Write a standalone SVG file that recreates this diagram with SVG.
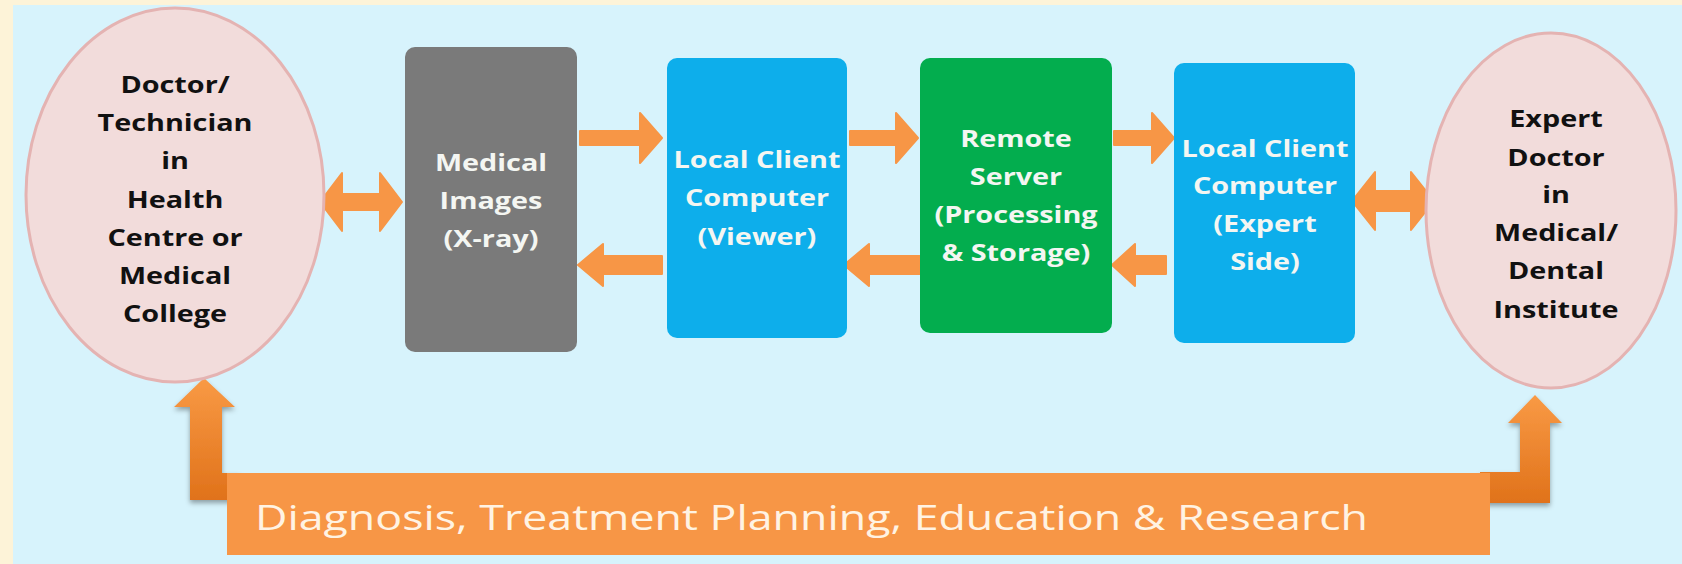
<svg xmlns="http://www.w3.org/2000/svg" width="1682" height="564" viewBox="0 0 1682 564">
<style>
.bg-outer{fill:#FDF3D8}
.bg-inner{fill:#D7F3FC}
.ell{fill:#F2DCDB;stroke:#E4B3B2;stroke-width:3}
.box{stroke:none}
.gray{fill:#7A7A7A}
.blue{fill:#0DAEEB}
.green{fill:#03AD4E}
.t{font-family:'Open Sans','Liberation Sans',sans-serif;font-weight:700;font-size:24px;text-anchor:middle}
.dark{fill:#111111}
.light{fill:#F4F6F2}
.arr{fill:#F79646;stroke:#F79646;stroke-width:2;stroke-linejoin:round}
.bent{fill:url(#bentGrad);filter:url(#shadow)}
.bar{fill:#F79646}
.bartext{font-family:'Open Sans','Liberation Sans',sans-serif;font-weight:400;font-size:35px;fill:#FFF3E3}
</style>
<defs>
<linearGradient id="bentGrad" x1="0" y1="0" x2="0" y2="1">
<stop offset="0" stop-color="#F99A45"/>
<stop offset="1" stop-color="#E0721A"/>
</linearGradient>
<filter id="shadow" x="-30%" y="-10%" width="160%" height="130%">
<feDropShadow dx="0" dy="3" stdDeviation="2.5" flood-color="#000" flood-opacity="0.35"/>
</filter>
</defs>

<rect class="bg-outer" x="0" y="0" width="1682" height="564"/>
<rect class="bg-inner" x="13" y="5" width="1669" height="559"/>

<g id="connectors">
<polygon class="arr" points="320,202 342,173 342,194 380,194 380,173 402,202 380,231 380,210 342,210 342,231"/>
<polygon class="arr" points="580,131 640,131 640,113 662,138 640,163 640,145 580,145"/>
<polygon class="arr" points="850,131 896,131 896,113 918,138 896,163 896,145 850,145"/>
<polygon class="arr" points="1114,131 1152,131 1152,113 1174,138 1152,163 1152,145 1114,145"/>
<polygon class="arr" points="578,265 603,244 603,256 662,256 662,274 603,274 603,286"/>
<polygon class="arr" points="844,265 869,244 869,256 920,256 920,274 869,274 869,286"/>
<polygon class="arr" points="1112,265 1135,244 1135,256 1166,256 1166,274 1135,274 1135,286"/>
<polygon class="arr" points="1352,201 1375,172 1375,191 1411,191 1411,172 1434,201 1411,230 1411,211 1375,211 1375,230"/>
<polygon class="bent" points="204,378 235,407 222,407 222,473 240,473 240,500 190,500 190,407 174,407"/>
<polygon class="bent" points="1535,395 1562,423 1550,423 1550,503 1480,503 1480,472 1520,472 1520,423 1508,423"/>
</g>

<g id="node-doctor">
<ellipse class="ell" cx="175" cy="195" rx="149" ry="187"/>
<g transform="translate(175,0) scale(1.2,1)" class="t dark">
<text x="0" y="93.5">Doctor/</text>
<text x="0" y="131.5">Technician</text>
<text x="0" y="169.5">in</text>
<text x="0" y="208">Health</text>
<text x="0" y="246">Centre or</text>
<text x="0" y="284.5">Medical</text>
<text x="0" y="322">College</text>
</g>
</g>

<g id="node-images">
<rect class="box gray" x="405" y="47" width="172" height="305" rx="10"/>
<g transform="translate(491,0) scale(1.2,1)" class="t light">
<text x="0" y="171.5">Medical</text>
<text x="0" y="209.5">Images</text>
<text x="0" y="247.5">(X-ray)</text>
</g>
</g>

<g id="node-viewer">
<rect class="box blue" x="667" y="58" width="180" height="280" rx="10"/>
<g transform="translate(757,0) scale(1.2,1)" class="t light">
<text x="0" y="168">Local Client</text>
<text x="0" y="206">Computer</text>
<text x="0" y="245">(Viewer)</text>
</g>
</g>

<g id="node-server">
<rect class="box green" x="920" y="58" width="192" height="275" rx="10"/>
<g transform="translate(1016,0) scale(1.2,1)" class="t light">
<text x="0" y="147">Remote</text>
<text x="0" y="185">Server</text>
<text x="0" y="223">(Processing</text>
<text x="0" y="261">&amp; Storage)</text>
</g>
</g>

<g id="node-expert-computer">
<rect class="box blue" x="1174" y="63" width="181" height="280" rx="10"/>
<g transform="translate(1265,0) scale(1.2,1)" class="t light">
<text x="0" y="157">Local Client</text>
<text x="0" y="194.5">Computer</text>
<text x="0" y="232">(Expert</text>
<text x="0" y="270">Side)</text>
</g>
</g>

<g id="node-expert-doctor">
<ellipse class="ell" cx="1551" cy="210.5" rx="125" ry="177.5"/>
<g transform="translate(1556,0) scale(1.2,1)" class="t dark">
<text x="0" y="127">Expert</text>
<text x="0" y="166">Doctor</text>
<text x="0" y="203.5">in</text>
<text x="0" y="241">Medical/</text>
<text x="0" y="279.5">Dental</text>
<text x="0" y="318">Institute</text>
</g>
</g>

<g id="node-outcomes">
<rect class="bar" x="227" y="473" width="1263" height="82"/>
<text class="bartext" x="255" y="530" textLength="1113" lengthAdjust="spacingAndGlyphs">Diagnosis, Treatment Planning, Education &amp; Research</text>
</g>
</svg>
